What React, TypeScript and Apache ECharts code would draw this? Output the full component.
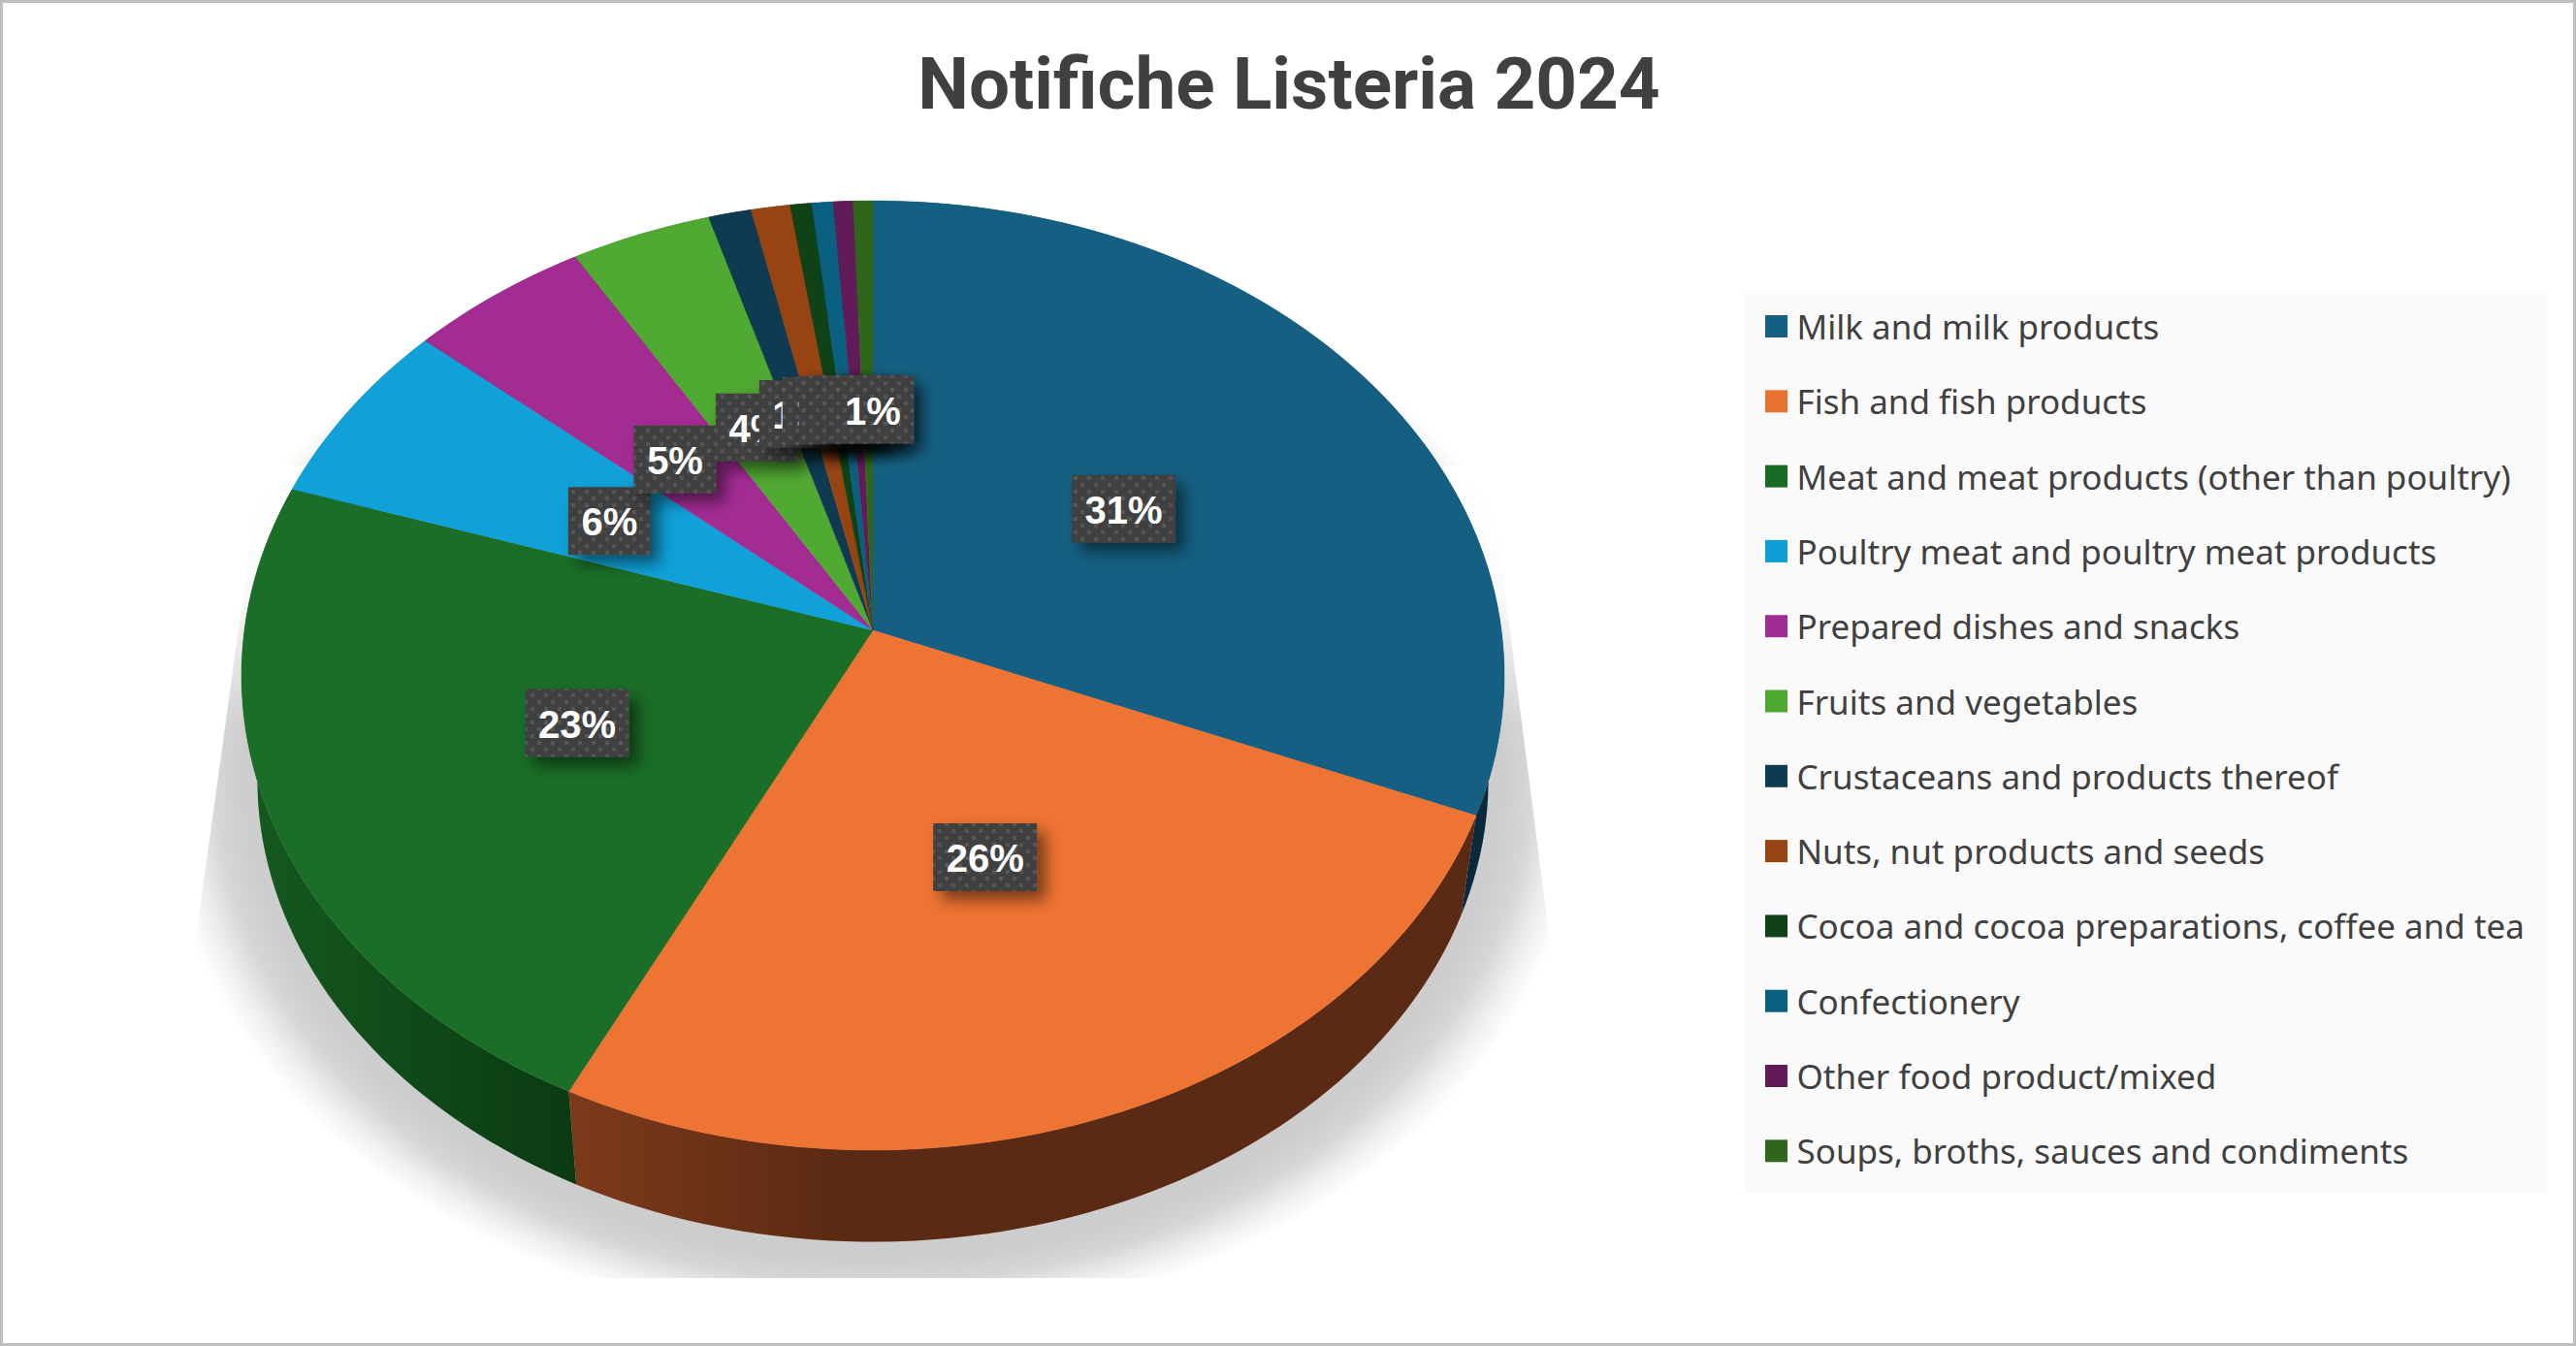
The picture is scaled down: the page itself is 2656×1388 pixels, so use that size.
import React, { useEffect, useRef } from "react";
import * as echarts from "echarts";

const TITLE = "Notifiche Listeria 2024";
const categories = [
  "Milk and milk products",
  "Fish and fish products",
  "Meat and meat products (other than poultry)",
  "Poultry meat and poultry meat products",
  "Prepared dishes and snacks",
  "Fruits and vegetables",
  "Crustaceans and products thereof",
  "Nuts, nut products and seeds",
  "Cocoa and cocoa preparations, coffee and tea",
  "Confectionery",
  "Other food product/mixed",
  "Soups, broths, sauces and condiments",
];
const values = [31.2, 26.1, 22.7, 6.35, 5.1, 3.95, 1.2, 1.1, 0.6, 0.6, 0.55, 0.55];
const topColors = ["#156082", "#EE7433", "#1B6E27", "#10A1D8", "#A32C93", "#50A932", "#0E3B51", "#984412", "#0F4216", "#0A6080", "#621B59", "#2F661C"];
const legendColors = ["#156082", "#E97132", "#196B24", "#0F9ED5", "#A02B93", "#4EA72E", "#0E3B51", "#984412", "#0F4216", "#0A6080", "#621B59", "#2F661C"];
const wallColors = ["#0A2A3C", "#5B2A14", "#0C3D13", "#0A4A66", "#5A1852", "#2B5E1A", "#082231", "#55260A", "#08250C", "#06364A", "#370F32", "#1A3A10"];
const labelNudgeX = [3, -10, 5, -2, -10, 0, -1, 2, 3, 4, 4, 5];
const labelNudgeY = [9, -9, 4, 7, 3, 1, -2, -2, -1, -1, -1, 0];

const total = values.reduce((a, b) => a + b, 0);
const CX = 900, CY = 650, A = 648, B = 485, K = 0.095;
const BASE_CY = 758, BASE_S = 0.975;

function project(theta: number, r: number, base: boolean) {
  const u = Math.sin(theta) * r;
  const v = -Math.cos(theta) * r;
  const w = 1 - K * v;
  const s = base ? BASE_S : 1;
  return [CX + (s * A * u) / w, (base ? BASE_CY : CY) + (s * B * v) / w];
}
function sliceAngles(i: number) {
  let before = 0;
  for (let k = 0; k < i; k++) before += values[k];
  return [(before / total) * Math.PI * 2, ((before + values[i]) / total) * Math.PI * 2];
}
function arc(t0: number, t1: number, base: boolean) {
  const n = Math.max(2, Math.ceil(((t1 - t0) / (Math.PI * 2)) * 240));
  const pts: number[][] = [];
  for (let j = 0; j <= n; j++) pts.push(project(t0 + ((t1 - t0) * j) / n, 1, base));
  return pts;
}

function dotPattern() {
  const c = document.createElement("canvas");
  c.width = 14;
  c.height = 14;
  const g = c.getContext("2d")!;
  g.fillStyle = "#404040";
  g.fillRect(0, 0, 14, 14);
  g.fillStyle = "#555555";
  g.fillRect(1, 1, 4, 4);
  g.fillRect(8, 8, 4, 4);
  return c;
}

function wallFill(i: number) {
  if (i === 1) return { type: "linear", x: 0, y: 0, x2: 1, y2: 0, colorStops: [{ offset: 0, color: "#7D3A1A" }, { offset: 0.3, color: "#5B2A14" }, { offset: 1, color: "#5B2A14" }] };
  if (i === 2) return { type: "linear", x: 0, y: 0, x2: 1, y2: 0, colorStops: [{ offset: 0, color: "#155A20" }, { offset: 1, color: "#0B3A12" }] };
  return wallColors[i];
}

export default function App() {
  const ref = useRef<HTMLDivElement>(null);
  useEffect(() => {
    document.body.style.margin = "0";
    const chart = echarts.init(ref.current!, null, { renderer: "svg" });
    const pattern = dotPattern();
    const shadowSeries = {
      type: "custom", name: "shadow", coordinateSystem: "none", silent: true, data: [0], z: 1,
      renderItem: () => ({
        type: "group",
        children: [
          {
            type: "ellipse", shape: { cx: 900, cy: 800, rx: 737, ry: 569 },
            style: {
              fill: {
                type: "radial", x: 0.5, y: 0.5, r: 0.5,
                colorStops: [
                  { offset: 0, color: "#cdcdcd" }, { offset: 0.88, color: "#cdcdcd" },
                  { offset: 0.92, color: "#d6d6d6" }, { offset: 0.96, color: "#eeeeee" }, { offset: 1, color: "#ffffff" },
                ],
              },
            },
          },
          {
            type: "rect", shape: { x: 0, y: 480, width: 2000, height: 270 },
            style: { fill: { type: "linear", x: 0, y: 0, x2: 0, y2: 1, colorStops: [
              { offset: 0, color: "rgba(255,255,255,1)" }, { offset: 0.5, color: "rgba(255,255,255,0.8)" }, { offset: 1, color: "rgba(255,255,255,0)" },
            ] } },
          },
          { type: "polygon", shape: { points: [[294, 300], [152, 1330], [4, 1330], [4, 4], [2000, 4], [2000, 1330], [1644, 1330], [1512, 300]] }, style: { fill: "#fff" } },
          { type: "rect", shape: { x: 4, y: 1318, width: 2000, height: 60 }, style: { fill: "#fff" } },
        ],
      }),
    };
    const wallSeries = {
      type: "custom", name: "walls", coordinateSystem: "none", silent: true, data: values, z: 2,
      renderItem: (p: any) => {
        const [t0, t1] = sliceAngles(p.dataIndex);
        const pts = [...arc(t0, t1, false), ...arc(t0, t1, true).reverse()];
        return { type: "polygon", shape: { points: pts }, style: { fill: wallFill(p.dataIndex) } };
      },
    };
    const sliceSeries = categories.map((name, i) => ({
      type: "custom", name, coordinateSystem: "none", silent: true, data: [values[i]], z: 3,
      itemStyle: { color: legendColors[i] },
      renderItem: () => {
        const [t0, t1] = sliceAngles(i);
        return { type: "polygon", shape: { points: [[CX, CY], ...arc(t0, t1, false)] }, style: { fill: topColors[i], stroke: topColors[i], lineWidth: 0.5 } };
      },
    }));
    const labelSeries = {
      type: "custom", name: "labels", coordinateSystem: "none", silent: true, data: values, z: 4,
      renderItem: (p: any) => {
        const i = p.dataIndex;
        const [t0, t1] = sliceAngles(i);
        const [x, y] = project((t0 + t1) / 2, 1, false);
        const lx = CX + (x - CX) * 0.5 + labelNudgeX[i];
        const ly = CY + (y - CY) * 0.5 - 6 + labelNudgeY[i];
        const text = Math.round((values[i] / total) * 100) + "%";
        const boxWidth = text.length > 2 ? 107 : 85;
        return {
          type: "group",
          children: [
            { type: "rect", shape: { x: lx - boxWidth / 2, y: ly - 35, width: boxWidth, height: 70 }, style: { fill: { image: pattern, repeat: "repeat" }, shadowBlur: 16, shadowOffsetX: 9, shadowOffsetY: 9, shadowColor: "rgba(0,0,0,0.5)" } },
            { type: "text", x: lx, y: ly + 1, style: { text, fill: "#fff", font: 'bold 40px "Liberation Sans"', align: "center", verticalAlign: "middle" } },
          ],
        };
      },
    };
    chart.setOption({
      animation: false,
      backgroundColor: "#fff",
      title: {
        text: TITLE, left: 1324, top: 44, textAlign: "center",
        textStyle: { fontFamily: "Roboto", fontWeight: "bold", fontSize: 74.6, color: "#404040" },
      },
      legend: {
        data: categories, orient: "vertical", left: 1799, top: 301, icon: "rect",
        itemWidth: 23, itemHeight: 23, itemGap: 42.3, selectedMode: false,
        padding: [18, 23, 26, 21], backgroundColor: "#fafafa",
        textStyle: { fontFamily: "Noto Sans", fontSize: 35, color: "#404040", padding: [0, 0, 0, 4.5] },
      },
      graphic: [{ type: "rect", z: 100, shape: { x: 1.5, y: 1.5, width: 2653, height: 1385 }, style: { fill: "none", stroke: "#bfbfbf", lineWidth: 3 } }],
      series: [shadowSeries, wallSeries, ...sliceSeries, labelSeries],
    });
    return () => chart.dispose();
  }, []);
  return <div ref={ref} style={{ position: "absolute", left: 0, top: 0, width: 2656, height: 1388 }} />;
}
